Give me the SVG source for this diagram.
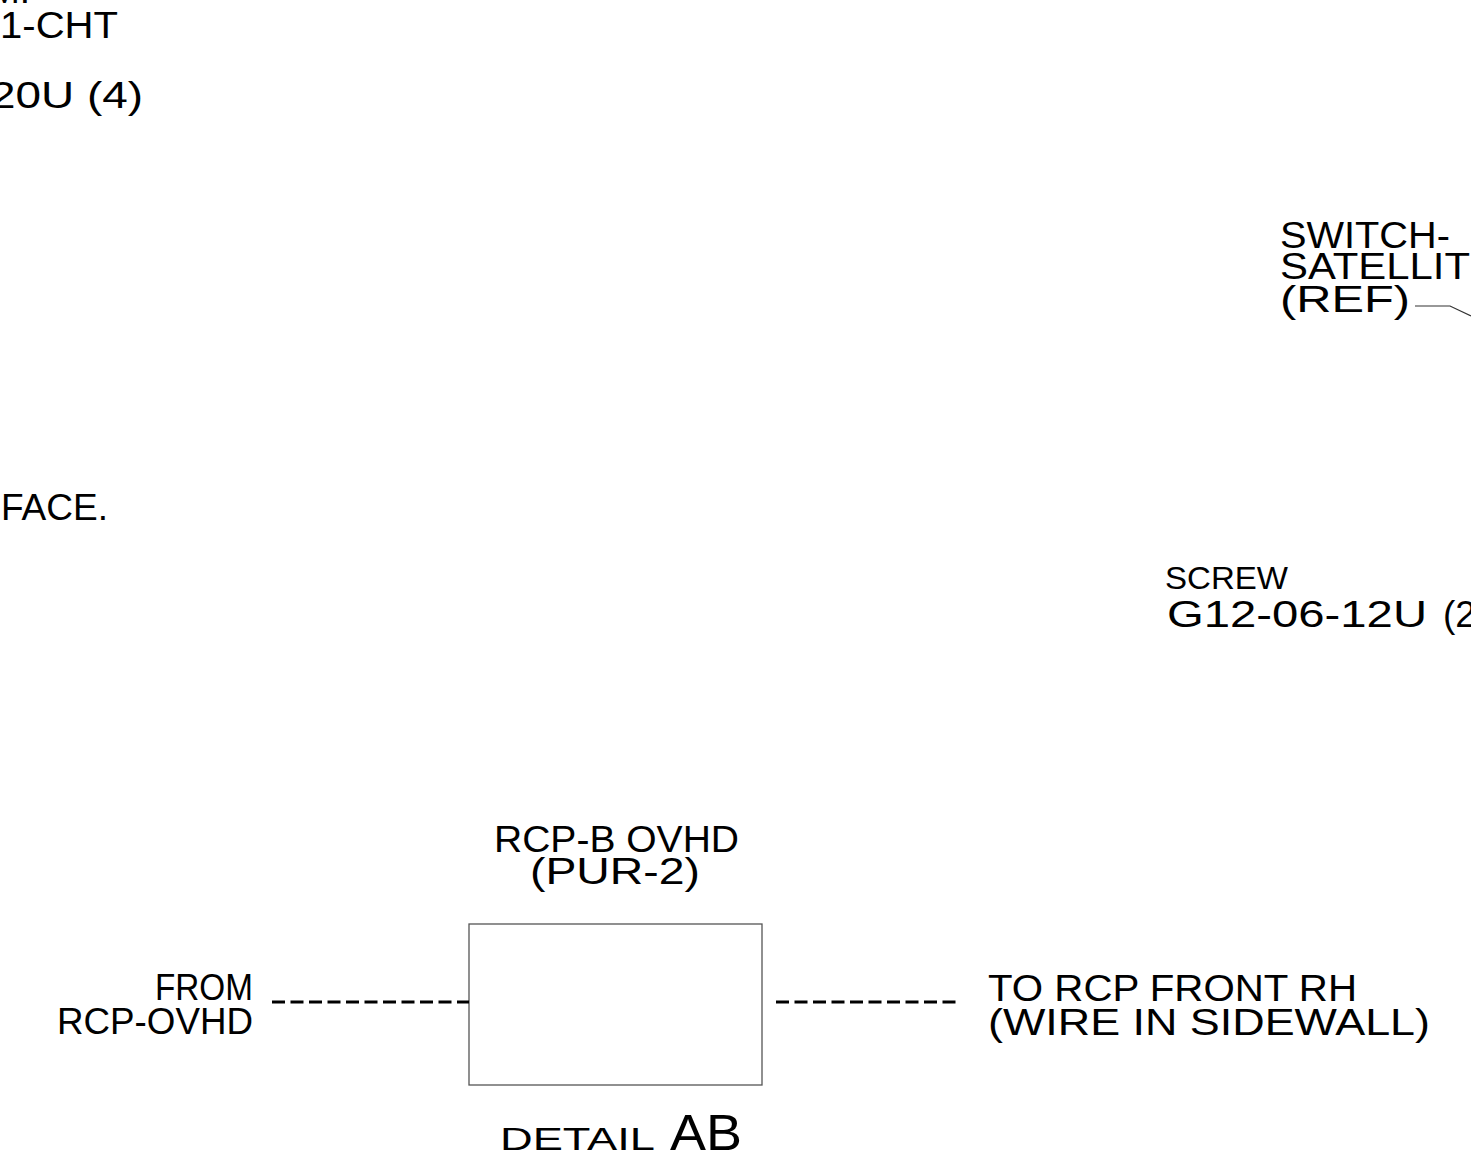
<svg xmlns="http://www.w3.org/2000/svg" width="1471" height="1162" viewBox="0 0 1471 1162">
<style>
text{font-family:"Liberation Sans",Arial,sans-serif;fill:#000;font-size:37px}
.s30{font-size:31px}
.s31{font-size:32px}
.s48{font-size:50px}
.dash{stroke:#000;stroke-width:3;stroke-dasharray:13 5.5;fill:none}
.leader{stroke:#333;stroke-width:1.2;fill:none}
.box{fill:#fff;stroke:#555;stroke-width:1.3}
</style>
<rect width="1471" height="1162" fill="#fff"/>
<g id="note-left">
<text x="-11" y="3">M.</text>
<text x="0" y="38" textLength="118" lengthAdjust="spacingAndGlyphs">1-CHT</text>
<text x="-10" y="108" textLength="153" lengthAdjust="spacingAndGlyphs">20U (4)</text>
<text x="1" y="520" textLength="107" lengthAdjust="spacingAndGlyphs">FACE.</text>
</g>
<g id="switch-label">
<text x="1280" y="248" textLength="170" lengthAdjust="spacingAndGlyphs">SWITCH-</text>
<text x="1280" y="279" textLength="190" lengthAdjust="spacingAndGlyphs">SATELLIT</text>
<text x="1280" y="312" textLength="130" lengthAdjust="spacingAndGlyphs">(REF)</text>
</g>
<g id="screw-label">
<text class="s31" x="1165" y="589" textLength="123" lengthAdjust="spacingAndGlyphs">SCREW</text>
<text x="1167" y="627" textLength="260" lengthAdjust="spacingAndGlyphs">G12-06-12U</text>
<text x="1443" y="627">(2</text>
</g>
<g id="rcp-b-ovhd">
<text x="494" y="852" textLength="245" lengthAdjust="spacingAndGlyphs">RCP-B OVHD</text>
<text x="530" y="884" textLength="170" lengthAdjust="spacingAndGlyphs">(PUR-2)</text>
<rect class="box" x="469" y="924" width="293" height="161"/>
</g>
<g id="from-label">
<text x="155" y="1000" textLength="98" lengthAdjust="spacingAndGlyphs">FROM</text>
<text x="57" y="1034" textLength="196" lengthAdjust="spacingAndGlyphs">RCP-OVHD</text>
</g>
<g id="to-label">
<text x="988" y="1001" textLength="369" lengthAdjust="spacingAndGlyphs">TO RCP FRONT RH</text>
<text x="988" y="1035" textLength="442" lengthAdjust="spacingAndGlyphs">(WIRE IN SIDEWALL)</text>
</g>
<g id="detail-label">
<text class="s30" x="500" y="1150" textLength="155" lengthAdjust="spacingAndGlyphs">DETAIL</text>
<text class="s48" x="670" y="1150" textLength="72" lengthAdjust="spacingAndGlyphs">AB</text>
</g>
<g id="connectors">
<line class="dash" x1="272" y1="1002" x2="469" y2="1002"/>
<line class="dash" x1="776" y1="1002" x2="960" y2="1002"/>
<polyline class="leader" points="1415,306 1450,306 1471,316"/>
</g>
</svg>
